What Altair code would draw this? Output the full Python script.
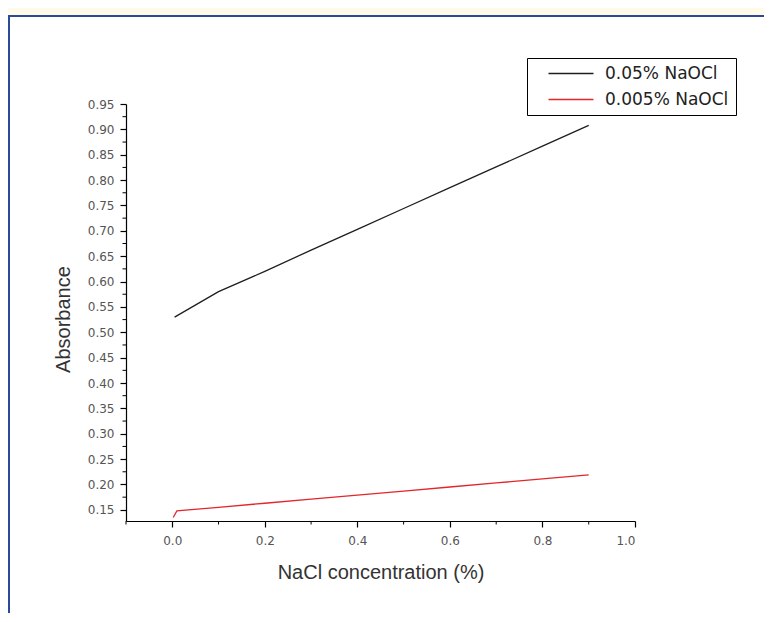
import altair as alt
import pandas as pd

# --- data ---
nacl_hi = [0.005, 0.1, 0.2, 0.3, 0.4, 0.5, 0.6, 0.7, 0.8, 0.9]
abs_hi = [0.53, 0.58, 0.62, 0.662, 0.703, 0.744, 0.785, 0.826, 0.867, 0.908]
nacl_lo = [0.002, 0.01, 0.1, 0.2, 0.3, 0.4, 0.5, 0.6, 0.7, 0.8, 0.9]
abs_lo = [0.135, 0.148, 0.155, 0.163, 0.171, 0.179, 0.187, 0.195, 0.203, 0.211, 0.219]
series_names = ["0.05% NaOCl", "0.005% NaOCl"]
series_colors = ["#1e1e1e", "#e3262b"]

x_major = [0.0, 0.2, 0.4, 0.6, 0.8, 1.0]
x_minor = [-0.1, 0.1, 0.3, 0.5, 0.7, 0.9]
y_major = [0.15, 0.20, 0.25, 0.30, 0.35, 0.40, 0.45, 0.50, 0.55,
           0.60, 0.65, 0.70, 0.75, 0.80, 0.85, 0.90, 0.95]
y_minor = [0.175, 0.225, 0.275, 0.325, 0.375, 0.425, 0.475, 0.525,
           0.575, 0.625, 0.675, 0.725, 0.775, 0.825, 0.875, 0.925]

df = pd.concat([
    pd.DataFrame({"x": nacl_hi, "y": abs_hi, "s": series_names[0]}),
    pd.DataFrame({"x": nacl_lo, "y": abs_lo, "s": series_names[1]}),
])

FONT = "DejaVu Sans"
TFONT = "Liberation Sans"
YELLOW = "#fffbe8"
xscale = alt.Scale(domain=[-0.1, 1.0], nice=False, zero=False)
yscale = alt.Scale(domain=[0.128, 0.95], nice=False, zero=False)

x_axis = alt.Axis(values=x_major, format=".1f", title="NaCl concentration (%)",
                  labelOverlap=False, tickSize=6, labelPadding=8, titlePadding=16)
y_axis = alt.Axis(values=y_major, format=".2f", title="Absorbance", titleY=215,
                  labelOverlap=False, labelSeparation=0,
                  tickSize=6, labelPadding=6, titlePadding=14)

one = pd.DataFrame({"a": [0]})
band_top = alt.Chart(one).mark_rect(fill=YELLOW, clip=False).encode(
    x=alt.value(-130), x2=alt.value(700), y=alt.value(-110), y2=alt.value(-88))
band_left = alt.Chart(one).mark_rect(fill=YELLOW, clip=False).encode(
    x=alt.value(-130), x2=alt.value(-117), y=alt.value(-110), y2=alt.value(700))
panel = alt.Chart(one).mark_rect(
    fillOpacity=0, stroke="#2b4a9b", strokeWidth=2, clip=False
).encode(x=alt.value(-117), x2=alt.value(700), y=alt.value(-88), y2=alt.value(700))

lines = alt.Chart(df).mark_line(strokeWidth=1.3).encode(
    x=alt.X("x:Q", scale=xscale, axis=x_axis),
    y=alt.Y("y:Q", scale=yscale, axis=y_axis),
    color=alt.Color("s:N", sort=series_names,
                    scale=alt.Scale(domain=series_names, range=series_colors),
                    legend=alt.Legend(
                        orient="none", legendX=401, legendY=-46, title=None,
                        symbolType="M-4.5,0H4.5", symbolSize=100, symbolStrokeWidth=1.3,
                        labelFontSize=17, labelFont=FONT, labelColor="#222",
                        strokeColor="black", fillColor="white", padding=7,
                        rowPadding=8, symbolOffset=28.5, labelOffset=25.5)),
    order=alt.Order("x:Q"),
)

xminor = alt.Chart(pd.DataFrame({"x": x_minor})).mark_rule(
    color="black", strokeWidth=1, clip=False
).encode(x=alt.X("x:Q", scale=xscale, axis=x_axis), y=alt.value(417), y2=alt.value(420.5))

yminor = alt.Chart(pd.DataFrame({"y": y_minor})).mark_rule(
    color="black", strokeWidth=1, clip=False
).encode(y=alt.Y("y:Q", scale=yscale, axis=y_axis), x=alt.value(-3.5), x2=alt.value(0))

chart = alt.layer(band_top, band_left, panel, lines, xminor, yminor).properties(
    width=509, height=417,
    padding={"left": 118, "top": 96, "right": 129, "bottom": 92},
    autosize=alt.AutoSizeParams(type="none"),
    background="white",
).configure_view(stroke=None).configure_axis(
    labelOverlap=False,
    domainColor="black", domainWidth=1.2, tickColor="black", tickWidth=1.2,
    grid=False, labelFont=FONT, labelFontSize=12, labelColor="#555",
    titleFont=TFONT, titleFontSize=20, titleFontWeight="normal", titleColor="#333",
)

chart.save("out.html", embed_options={"renderer": "svg", "actions": False})
